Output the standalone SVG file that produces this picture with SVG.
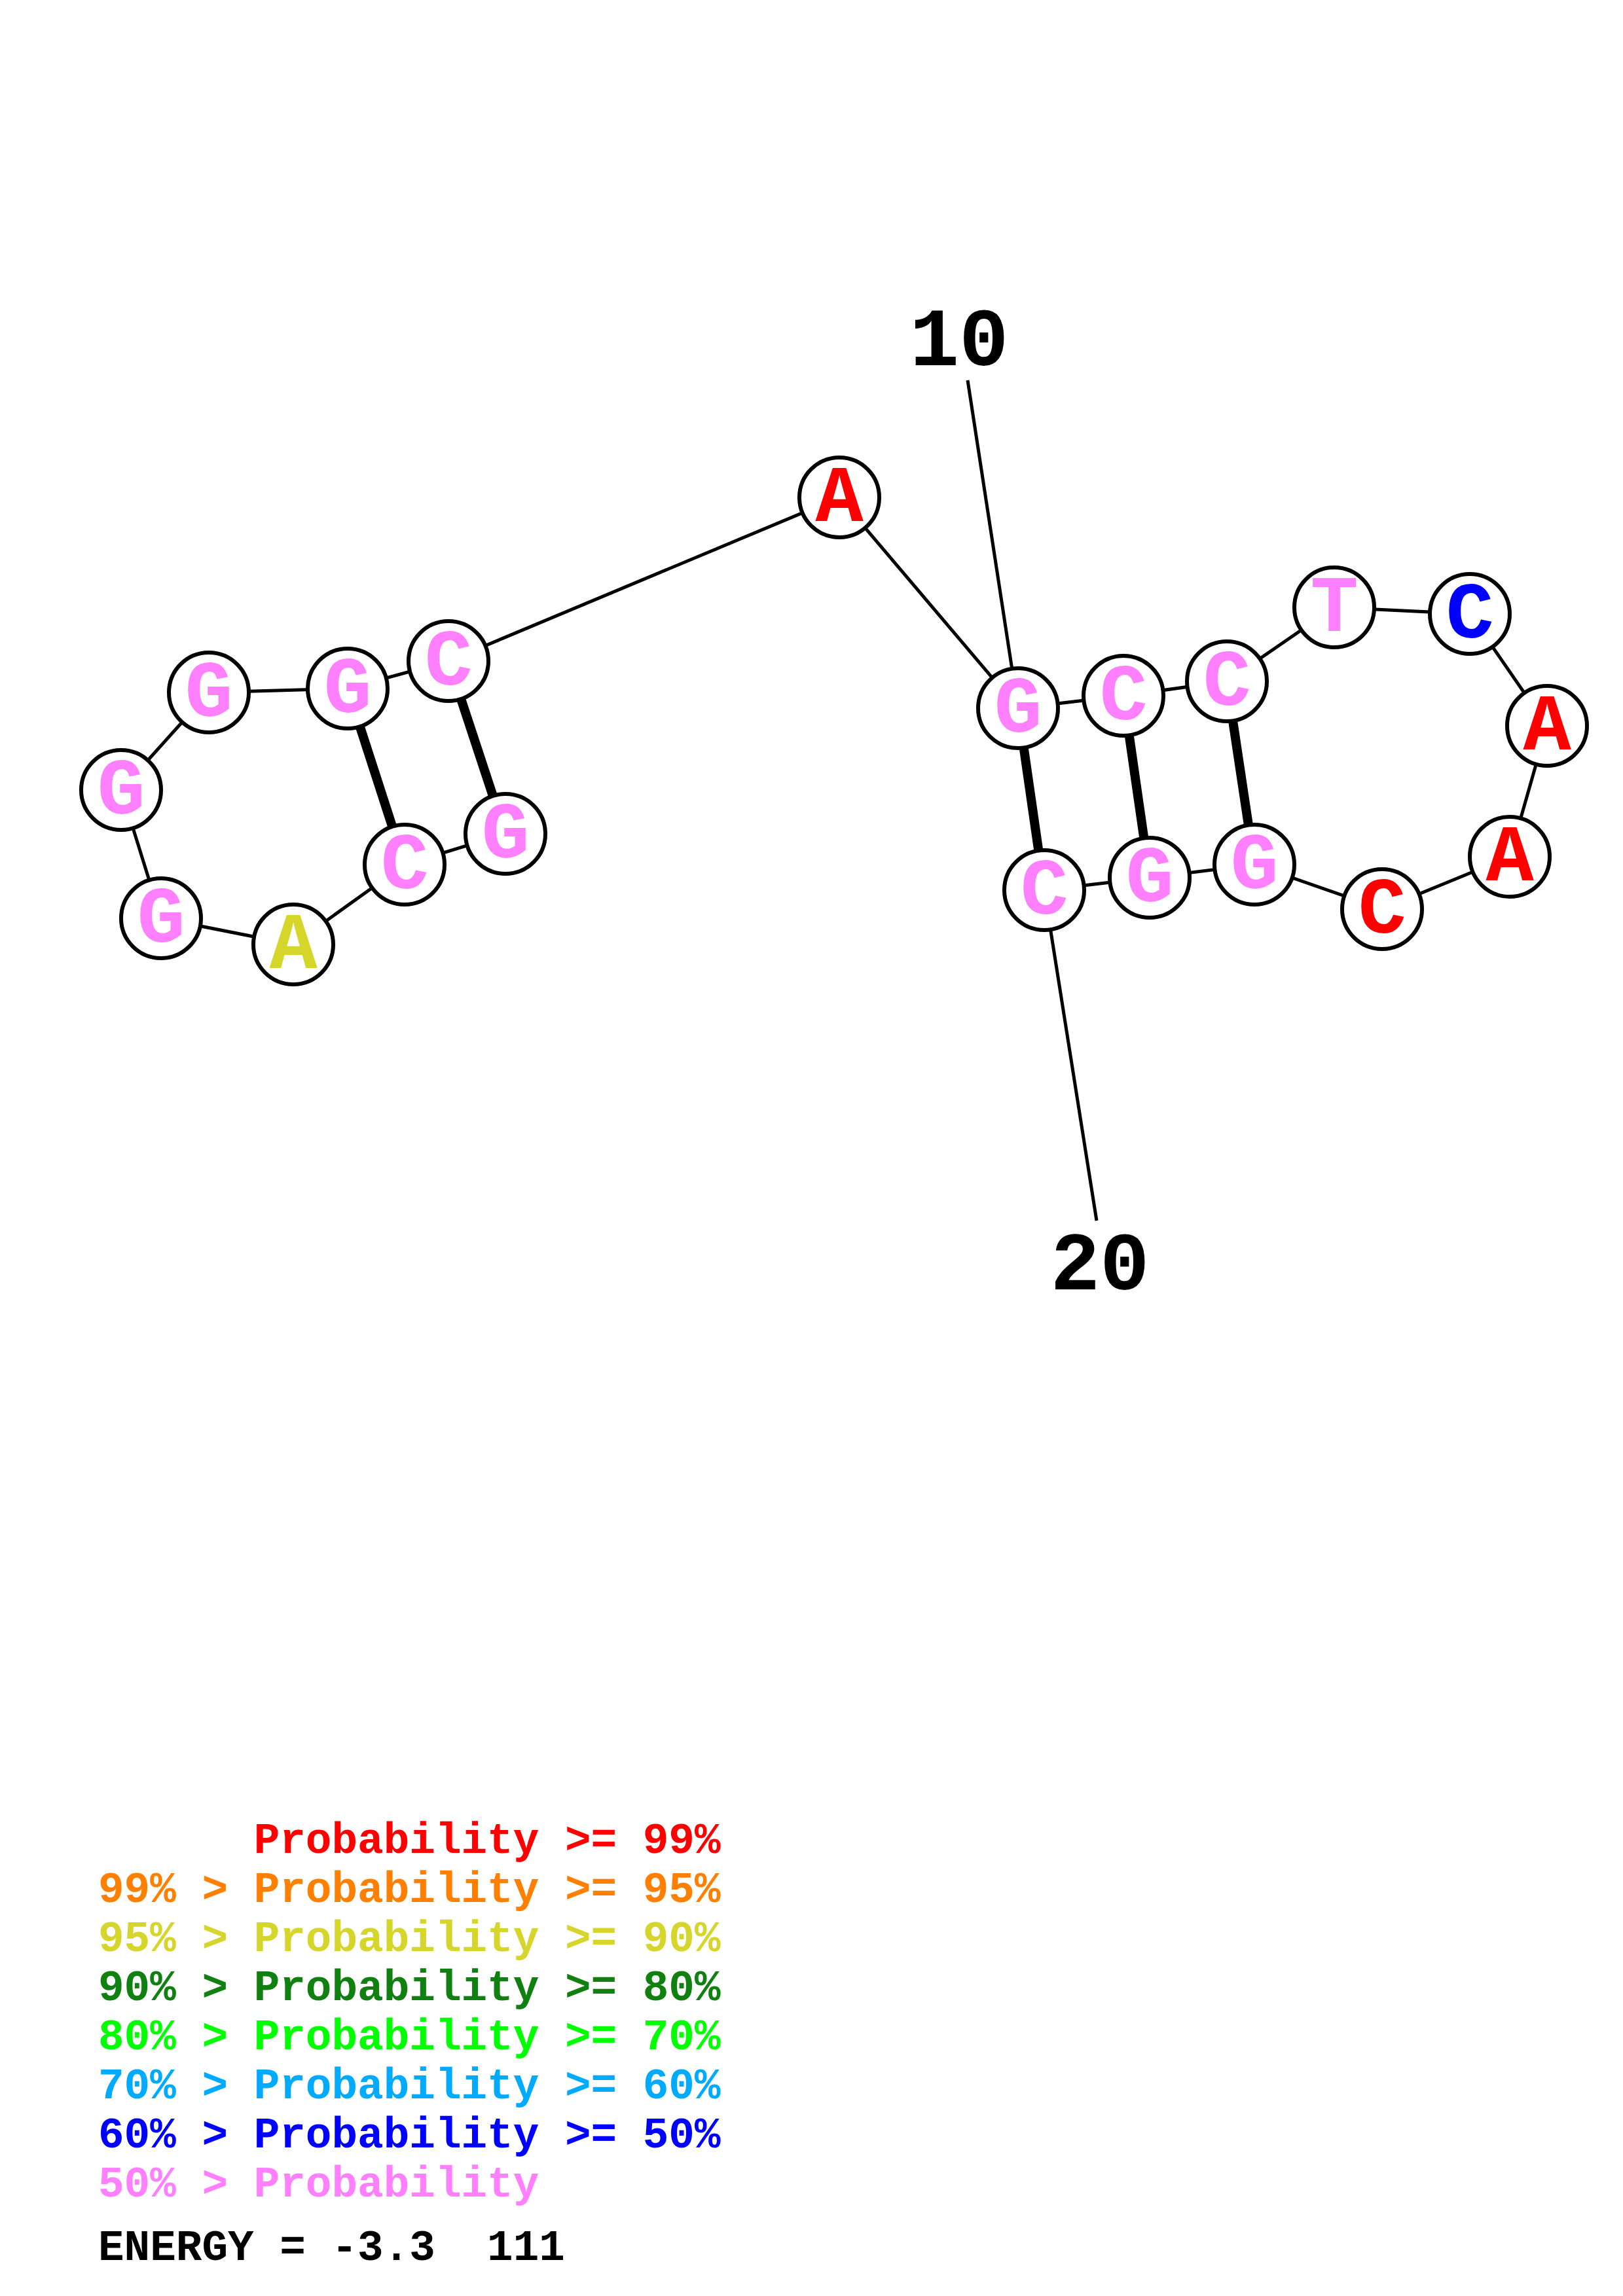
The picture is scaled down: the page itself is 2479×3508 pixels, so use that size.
<svg xmlns="http://www.w3.org/2000/svg" width="2479" height="3508" viewBox="0 0 2479 3508">
<style>
.bb{stroke:#000;stroke-width:5;fill:none}
.bp{stroke:#000;stroke-width:14;fill:none}
.nd circle{fill:#fff;stroke:#000;stroke-width:6}
.nd text{font-family:"Liberation Mono","Courier New",monospace;font-weight:bold;font-size:122px;text-anchor:middle}
.pk{fill:#FF80FF}.rd{fill:#FF0000}.bl{fill:#0000FF}.yl{fill:#D5D52B}
.num{font-family:"Liberation Mono","Courier New",monospace;font-weight:bold;font-size:126px;text-anchor:middle;fill:#000}
.lg{font-family:"Liberation Mono","Courier New",monospace;font-weight:bold;font-size:66px;white-space:pre}
</style>
<rect width="2479" height="3508" fill="#fff"/>
<g id="connectors">
<line class="bb" x1="1478" y1="581" x2="1555" y2="1082"/>
<line class="bb" x1="1595" y1="1360" x2="1675" y2="1865"/>
<polyline class="bb" points="772,1274 618,1321 448,1443 246,1403 185,1207 319,1058 531,1052 685,1010 1282,760 1555,1082 1716,1063 1874,1041 2038,928 2245,938 2363,1109 2306,1309 2111,1389 1916,1321 1756,1341 1595,1360"/>
<line class="bp" x1="531" y1="1052" x2="618" y2="1321"/>
<line class="bp" x1="685" y1="1010" x2="772" y2="1274"/>
<line class="bp" x1="1555" y1="1082" x2="1595" y2="1360"/>
<line class="bp" x1="1716" y1="1063" x2="1756" y2="1341"/>
<line class="bp" x1="1874" y1="1041" x2="1916" y2="1321"/>
</g>
<g id="n1" class="nd"><circle cx="772" cy="1274" r="61"/><text x="772" y="1310" class="pk">G</text></g>
<g id="n2" class="nd"><circle cx="618" cy="1321" r="61"/><text x="618" y="1357" class="pk">C</text></g>
<g id="n3" class="nd"><circle cx="448" cy="1443" r="61"/><text x="448" y="1479" class="yl">A</text></g>
<g id="n4" class="nd"><circle cx="246" cy="1403" r="61"/><text x="246" y="1439" class="pk">G</text></g>
<g id="n5" class="nd"><circle cx="185" cy="1207" r="61"/><text x="185" y="1243" class="pk">G</text></g>
<g id="n6" class="nd"><circle cx="319" cy="1058" r="61"/><text x="319" y="1094" class="pk">G</text></g>
<g id="n7" class="nd"><circle cx="531" cy="1052" r="61"/><text x="531" y="1088" class="pk">G</text></g>
<g id="n8" class="nd"><circle cx="685" cy="1010" r="61"/><text x="685" y="1046" class="pk">C</text></g>
<g id="n9" class="nd"><circle cx="1282" cy="760" r="61"/><text x="1282" y="796" class="rd">A</text></g>
<g id="n10" class="nd"><circle cx="1555" cy="1082" r="61"/><text x="1555" y="1118" class="pk">G</text></g>
<g id="n11" class="nd"><circle cx="1716" cy="1063" r="61"/><text x="1716" y="1099" class="pk">C</text></g>
<g id="n12" class="nd"><circle cx="1874" cy="1041" r="61"/><text x="1874" y="1077" class="pk">C</text></g>
<g id="n13" class="nd"><circle cx="2038" cy="928" r="61"/><text x="2038" y="964" class="pk">T</text></g>
<g id="n14" class="nd"><circle cx="2245" cy="938" r="61"/><text x="2245" y="974" class="bl">C</text></g>
<g id="n15" class="nd"><circle cx="2363" cy="1109" r="61"/><text x="2363" y="1145" class="rd">A</text></g>
<g id="n16" class="nd"><circle cx="2306" cy="1309" r="61"/><text x="2306" y="1345" class="rd">A</text></g>
<g id="n17" class="nd"><circle cx="2111" cy="1389" r="61"/><text x="2111" y="1425" class="rd">C</text></g>
<g id="n18" class="nd"><circle cx="1916" cy="1321" r="61"/><text x="1916" y="1357" class="pk">G</text></g>
<g id="n19" class="nd"><circle cx="1756" cy="1341" r="61"/><text x="1756" y="1377" class="pk">G</text></g>
<g id="n20" class="nd"><circle cx="1595" cy="1360" r="61"/><text x="1595" y="1396" class="pk">C</text></g>
<g id="labels">
<text class="num" x="1465" y="558">10</text>
<text class="num" x="1680" y="1970">20</text>
</g>
<g id="legend">
<text class="lg" x="150" y="2831" fill="#FF0000">      Probability &gt;= 99%</text>
<text class="lg" x="150" y="2906" fill="#FF8000">99% &gt; Probability &gt;= 95%</text>
<text class="lg" x="150" y="2981" fill="#D5D52B">95% &gt; Probability &gt;= 90%</text>
<text class="lg" x="150" y="3056" fill="#108010">90% &gt; Probability &gt;= 80%</text>
<text class="lg" x="150" y="3131" fill="#00FF00">80% &gt; Probability &gt;= 70%</text>
<text class="lg" x="150" y="3206" fill="#00AAFF">70% &gt; Probability &gt;= 60%</text>
<text class="lg" x="150" y="3281" fill="#0000FF">60% &gt; Probability &gt;= 50%</text>
<text class="lg" x="150" y="3356" fill="#FF80FF">50% &gt; Probability</text>
<text class="lg" x="150" y="3453" fill="#000">ENERGY = -3.3  111</text>
</g>
</svg>
